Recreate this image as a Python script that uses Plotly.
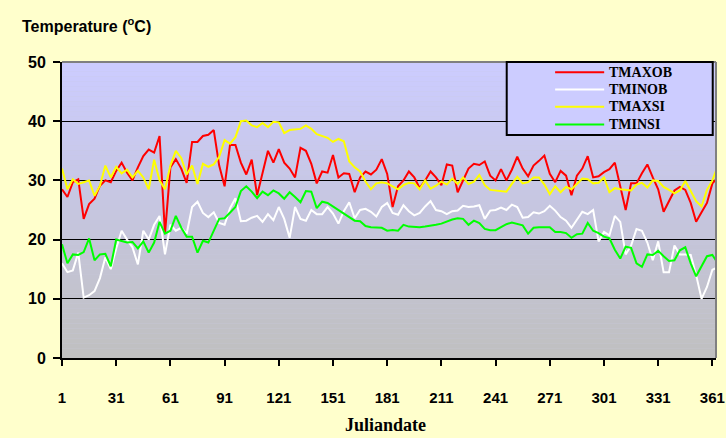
import plotly.graph_objects as go

# julian day of each reading (every third day)
DAYS = list(range(1, 365, 3))

TMAXOB = [
    28.5, 27.2, 29.7, 30.2, 23.5, 26, 26.9, 29.1, 30, 29.7,
    31.6, 33, 31.3, 30, 32.2, 34.1, 35.2, 34.7, 37.5, 21,
    32.2, 33.6, 32, 29.6, 36.5, 36.5, 37.5, 37.7, 38.5, 32.5,
    29, 36, 36, 33, 31, 33.5, 27.5, 31, 35, 33,
    35.3, 33, 32, 30.5, 35.5, 35, 32.8, 29.5, 31.5, 31.3,
    34.3, 30.5, 31.2, 31.1, 28, 30.5, 31.5, 31, 31.8, 33.6,
    31.1, 25.5, 29, 30, 31.5, 30.5, 28.7, 30, 31.5, 30.5,
    29.2, 32.7, 32.5, 28, 30, 32, 32.8, 32.6, 33.2, 30.8,
    30, 31.9, 30, 31.8, 34, 32, 30.7, 32.5, 33.3, 34.2,
    31.1, 29.7, 31.6, 30.8, 27.5, 30.8, 32, 34.1, 30.5, 30.7,
    31.4, 31.9, 33, 29, 25, 29.5, 29.5, 31.2, 32.7, 30.5,
    28.5, 24.7, 26.5, 28.3, 28.9, 28.4, 26.2, 23, 24.6, 26.2,
    29.5, 30.5,
]
TMINOB = [
    16, 14.5, 14.8, 17.8, 10.2, 10.6, 11.3, 13.5, 17, 15,
    18.5, 21.5, 20, 18.7, 15.8, 21.5, 20, 22.5, 24, 17.5,
    22.5, 21.5, 22, 21, 25.5, 26.4, 24.5, 23.8, 24.6, 22.8,
    22.5, 25.3, 27, 23.1, 23.2, 23.7, 24, 23, 24.3, 23.3,
    25.5, 23.5, 20.3, 25.5, 23.5, 23.2, 25, 24.3, 24.3, 25.5,
    24.4, 22.7, 24.8, 26.3, 23.6, 25, 25.2, 24.7, 23.9, 25.5,
    26.2, 24.5, 24.2, 25.8, 24.8, 24.1, 24.5, 25.6, 26.5, 25,
    24.8, 24.3, 24.8, 24.9, 25.7, 25.5, 25.6, 25.8, 23.5, 24.9,
    25, 25.4, 25, 25.9, 25.5, 23.7, 23.8, 24.6, 24.4, 24.8,
    25.7, 24.9, 23.8, 23.2, 22, 23.3, 24.7, 24.3, 25, 19.7,
    21.3, 20.7, 24, 23, 17.5, 19, 21.8, 21.5, 19.5, 16.5,
    19.7, 14.5, 14.5, 19, 17.5, 17.5, 17.4, 14, 10, 12,
    14.9, 15.3,
]
TMAXSI = [
    32, 28.5, 30.2, 29.4, 29.7, 30, 27.4, 29.1, 32.5, 30.5,
    32.3, 31.2, 31.8, 30.5, 31.6, 30.5, 28.5, 33.5, 30, 28.5,
    32.5, 35, 33.8, 31, 32.5, 29.4, 32.8, 32.3, 32.7, 34,
    36.8, 36.2, 37.3, 40, 40.1, 39.3, 39, 39.7, 39, 39.9,
    39.8, 38, 38.5, 38.6, 38.7, 39.3, 38.7, 37.8, 37.5, 37.2,
    36.5, 37, 36.6, 33.2, 32.2, 31.5, 29.8, 28.5, 29.5, 29.7,
    29.5, 29, 28.5, 29.2, 29.6, 29.5, 28.5, 30, 28.6, 29.1,
    29.8, 29.3, 30.3, 29.4, 30.5, 29.4, 29.8, 30.9, 29.2, 28.4,
    28.3, 28.2, 28.1, 29.4, 30.6, 29.5, 29.7, 30.5, 30.5, 29.3,
    27.7, 29, 28, 28.9, 28.5, 29.4, 30.3, 30.2, 29.5, 29.6,
    30.5, 28, 28.7, 28.5, 28.4, 28.3, 29.3, 29.6, 28.8, 30,
    29.9, 28.9, 28.4, 27.8, 28.3, 29.9, 28.2, 26.5, 25.6, 28.4,
    30, 32.5,
]
TMINSI = [
    19.2, 16, 17.5, 17.4, 17.9, 20.2, 16.5, 17.5, 17.6, 15.5,
    20, 19.7, 19.5, 19.6, 18.5, 19.7, 17.8, 19.5, 23, 21,
    21.5, 24, 22, 20.5, 20.5, 17.8, 19.8, 19.5, 21.5, 23.5,
    23.6, 24.5, 25.5, 28.2, 29, 28.1, 27, 28.1, 27.5, 28.3,
    27.8, 26.9, 28, 27.2, 26.3, 28.2, 28.1, 25.3, 26.4, 26.2,
    25.6, 25, 24.4, 23.8, 23.2, 23.1, 22.3, 22.1, 22.1, 22,
    21.5, 21.6, 21.5, 22.5, 22.2, 22.1, 22.1, 22.2, 22.3, 22.5,
    22.7, 23.1, 23.4, 23.6, 23.5, 22.5, 23.2, 22.8, 21.8, 21.6,
    21.6, 22.1, 22.6, 22.9, 22.7, 22.4, 21, 22, 22.1, 22.1,
    22.1, 21.3, 21.3, 21.1, 20.3, 20.9, 21, 22.8, 21.5, 21.1,
    20.5, 20.2, 18.3, 16.8, 18.8, 18.6, 16, 15.4, 17.5, 17.4,
    18.1, 17.2, 16.4, 16.5, 18.2, 18.7, 16, 13.8, 15.5, 17.2,
    17.4, 16,
]

X_TICKS = [1, 31, 61, 91, 121, 151, 181, 211, 241, 271, 301, 331, 361]
Y_TICKS = [0, 10, 20, 30, 40, 50]

SERIES = [
    ("TMAXOB", TMAXOB, "#ff0000"),
    ("TMINOB", TMINOB, "#ffffff"),
    ("TMAXSI", TMAXSI, "#ffff00"),
    ("TMINSI", TMINSI, "#00ff00"),
]

SANS = "Liberation Sans, Arial, sans-serif"
SERIF = "Liberation Serif, Times New Roman, serif"

fig = go.Figure()
for name, vals, color in SERIES:
    fig.add_trace(go.Scatter(
        x=DAYS, y=vals, name=name, mode="lines",
        line=dict(color=color, width=2),
        showlegend=False,
    ))

shapes = []
# plot area gradient: lavender at the top fading to grey
top, bot = (204, 204, 255), (192, 192, 192)
n = 60
for i in range(n):
    t = i / (n - 1)
    c = tuple(round(top[k] + (bot[k] - top[k]) * t) for k in range(3))
    shapes.append(dict(
        type="rect", xref="paper", yref="paper",
        x0=0, x1=1, y0=1 - (i + 1) / n, y1=1 - i / n,
        fillcolor="rgb(%d,%d,%d)" % c, line=dict(width=0), layer="below",
    ))
# grey border, top and right
shapes.append(dict(type="line", xref="paper", yref="paper", x0=0, x1=1, y0=1, y1=1,
                   line=dict(color="#808080", width=2), layer="above"))
shapes.append(dict(type="line", xref="paper", yref="paper", x0=1, x1=1, y0=0, y1=1,
                   line=dict(color="#808080", width=2), layer="above"))

# legend box drawn by hand
shapes.append(dict(type="rect", xref="paper", yref="paper",
                   x0=0.680, x1=0.995, y0=0.753, y1=1.0,
                   fillcolor="#ccccff", line=dict(color="black", width=2), layer="above"))
annotations = []
leg_y = [0.965, 0.907, 0.849, 0.789]
for (name, _, color), yy in zip(SERIES, leg_y):
    shapes.append(dict(type="line", xref="paper", yref="paper",
                       x0=0.754, x1=0.829, y0=yy, y1=yy,
                       line=dict(color=color, width=2), layer="above"))
    annotations.append(dict(
        x=0.834, y=yy, xref="paper", yref="paper", text=name, showarrow=False,
        xanchor="left", yanchor="middle",
        font=dict(family=SERIF, size=14, color="black", weight="bold"),
    ))

annotations.append(dict(
    x=-0.064, y=1.125, xref="paper", yref="paper",
    text="Temperature (<sup>o</sup>C)", showarrow=False,
    xanchor="left", yanchor="middle",
    font=dict(family=SANS, size=16, color="black", weight="bold"),
))
annotations.append(dict(
    x=0.494, y=-0.226, xref="paper", yref="paper",
    text="Juliandate", showarrow=False,
    xanchor="center", yanchor="middle",
    font=dict(family=SERIF, size=18, color="black", weight="bold"),
))

fig.update_layout(
    width=726, height=438, autosize=False,
    paper_bgcolor="#ffffcc",
    plot_bgcolor="#c8c8e0",
    margin=dict(l=62, r=10, t=62, b=80),
    xaxis=dict(
        range=[1, 363],
        tickvals=X_TICKS,
        ticks="outside", ticklen=6, tickwidth=2, tickcolor="black",
        showline=True, linecolor="black", linewidth=2,
        showgrid=False, zeroline=False, automargin=False,
        tickfont=dict(family=SANS, size=15, color="black", weight="bold"),
        ticklabelstandoff=19,
    ),
    yaxis=dict(
        range=[0, 50],
        tickvals=Y_TICKS,
        ticks="outside", ticklen=7, tickwidth=2, tickcolor="black",
        showline=True, linecolor="black", linewidth=2,
        showgrid=True, gridcolor="black", gridwidth=1,
        zeroline=False, automargin=False,
        tickfont=dict(family=SANS, size=16, color="black", weight="bold"),
        ticklabelstandoff=4,
    ),
    shapes=shapes,
    annotations=annotations,
)

# the page's default body margin would push the chart off its 726x438 frame
fig.write_html("out.html", config={"displayModeBar": False},
               post_script="document.body.style.margin = '0';")
